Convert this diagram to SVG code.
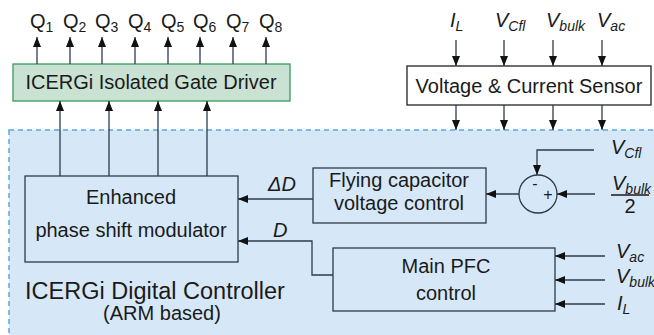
<svg xmlns="http://www.w3.org/2000/svg" width="654" height="335" viewBox="0 0 654 335">
<defs>
<marker id="ah" viewBox="0 0 10 8" refX="10" refY="4" markerWidth="10" markerHeight="8" markerUnits="userSpaceOnUse" orient="auto">
<path d="M0,0 L10,4 L0,8 Z" fill="#111"/>
</marker>
<style>
text{font-family:"Liberation Sans",Arial,sans-serif;fill:#1a1a1a}
.t20{font-size:20px}
.it{font-style:italic;font-size:20px}
.sub{font-size:14px}
.qs{font-size:14px}
.box{fill:none;stroke:#2f3b48;stroke-width:1.3}
.ln{fill:none;stroke:#2f3b48;stroke-width:1.3}
.ar{fill:none;stroke:#2f3b48;stroke-width:1.3;marker-end:url(#ah)}
.mid{text-anchor:middle}
</style>
</defs>
<rect width="654" height="335" fill="#ffffff"/>

<g id="controller">
<rect x="9" y="130" width="660" height="220" fill="#d6e8f8" stroke="#5aa6e6" stroke-width="1.5" stroke-dasharray="5,4"/>
<text x="155" y="299" class="mid" font-size="23.5">ICERGi Digital Controller</text>
<text x="162" y="320" class="mid t20">(ARM based)</text>
</g>

<g id="gate-driver">
<rect x="13" y="64" width="277" height="37" fill="#c9e2d3" stroke="#3a9a5c" stroke-width="1.3"/>
<text x="151" y="89" class="mid t20">ICERGi Isolated Gate Driver</text>
</g>

<g id="outputs">
<text x="30" y="28" class="t20">Q<tspan class="qs" dy="4">1</tspan></text>
<text x="63" y="28" class="t20">Q<tspan class="qs" dy="4">2</tspan></text>
<text x="95" y="28" class="t20">Q<tspan class="qs" dy="4">3</tspan></text>
<text x="128" y="28" class="t20">Q<tspan class="qs" dy="4">4</tspan></text>
<text x="161" y="28" class="t20">Q<tspan class="qs" dy="4">5</tspan></text>
<text x="193" y="28" class="t20">Q<tspan class="qs" dy="4">6</tspan></text>
<text x="226" y="28" class="t20">Q<tspan class="qs" dy="4">7</tspan></text>
<text x="259" y="28" class="t20">Q<tspan class="qs" dy="4">8</tspan></text>
</g>

<g id="sensor">
<rect x="407" y="66" width="244" height="39" fill="#ffffff" stroke="#222" stroke-width="1.3"/>
<text x="529" y="93" class="mid t20">Voltage &amp; Current Sensor</text>
</g>

<g id="sensor-inputs">
<text x="450" y="27" class="it">I<tspan class="sub" dy="4">L</tspan></text>
<text x="495" y="27" class="it">V<tspan class="sub" dy="4">Cfl</tspan></text>
<text x="546" y="27" class="it">V<tspan class="sub" dy="4">bulk</tspan></text>
<text x="597" y="27" class="it">V<tspan class="sub" dy="4">ac</tspan></text>
</g>

<g id="modulator">
<rect x="25" y="176" width="213" height="86" class="box"/>
<text x="131" y="204" class="mid t20">Enhanced</text>
<text x="131" y="237" class="mid t20">phase shift modulator</text>
</g>

<g id="flying-cap">
<rect x="313" y="168" width="173" height="55" class="box"/>
<text x="399" y="187" class="mid t20">Flying capacitor</text>
<text x="399" y="210" class="mid t20">voltage control</text>
</g>

<g id="sum">
<circle cx="538" cy="194" r="19" class="box"/>
<text x="535" y="189" class="mid" font-size="16">-</text>
<text x="548" y="200" class="mid" font-size="16">+</text>
</g>

<g id="main-pfc">
<rect x="333" y="248" width="222" height="63" class="box"/>
<text x="446" y="273" class="mid t20">Main PFC</text>
<text x="446" y="300" class="mid t20">control</text>
</g>

<g id="labels">
<text x="268" y="191" class="it">ΔD</text>
<text x="273" y="237" class="it">D</text>
<text x="611" y="154" class="it">V<tspan class="sub" dy="4">Cfl</tspan></text>
<text x="612" y="190" class="it">V<tspan class="sub" dy="4">bulk</tspan></text>
<line x1="611" y1="195" x2="649" y2="195" stroke="#1a1a1a" stroke-width="1.3"/>
<text x="630" y="213" class="mid t20">2</text>
<text x="616" y="258" class="it">V<tspan class="sub" dy="4">ac</tspan></text>
<text x="616" y="283" class="it">V<tspan class="sub" dy="4">bulk</tspan></text>
<text x="617" y="310" class="it">I<tspan class="sub" dy="4">L</tspan></text>
</g>

<g id="connectors">
<!-- Q outputs -->
<line x1="37" y1="64" x2="37" y2="37" class="ar"/>
<line x1="70" y1="64" x2="70" y2="37" class="ar"/>
<line x1="102" y1="64" x2="102" y2="37" class="ar"/>
<line x1="135" y1="64" x2="135" y2="37" class="ar"/>
<line x1="168" y1="64" x2="168" y2="37" class="ar"/>
<line x1="200" y1="64" x2="200" y2="37" class="ar"/>
<line x1="233" y1="64" x2="233" y2="37" class="ar"/>
<line x1="266" y1="64" x2="266" y2="37" class="ar"/>
<!-- modulator to gate driver -->
<line x1="60" y1="176" x2="60" y2="101" class="ar"/>
<line x1="109" y1="176" x2="109" y2="101" class="ar"/>
<line x1="158" y1="176" x2="158" y2="101" class="ar"/>
<line x1="207" y1="176" x2="207" y2="101" class="ar"/>
<!-- sensor inputs -->
<line x1="456" y1="40" x2="456" y2="66" class="ar"/>
<line x1="504" y1="40" x2="504" y2="66" class="ar"/>
<line x1="553" y1="40" x2="553" y2="66" class="ar"/>
<line x1="602" y1="40" x2="602" y2="66" class="ar"/>
<!-- sensor outputs -->
<line x1="456" y1="105" x2="456" y2="130" class="ar"/>
<line x1="504" y1="105" x2="504" y2="130" class="ar"/>
<line x1="553" y1="105" x2="553" y2="130" class="ar"/>
<line x1="602" y1="105" x2="602" y2="130" class="ar"/>
<!-- delta D -->
<line x1="313" y1="199" x2="238" y2="199" class="ar"/>
<!-- D -->
<polyline points="333,275 312,275 312,241 238,241" class="ar"/>
<!-- sum -->
<line x1="519" y1="194" x2="486" y2="194" class="ar"/>
<line x1="595" y1="194" x2="557" y2="194" class="ar"/>
<polyline points="594,150 537,150 537,175" class="ar"/>
<!-- PFC inputs -->
<line x1="605" y1="256" x2="555" y2="256" class="ar"/>
<line x1="605" y1="280" x2="555" y2="280" class="ar"/>
<line x1="605" y1="304" x2="555" y2="304" class="ar"/>
</g>
</svg>
